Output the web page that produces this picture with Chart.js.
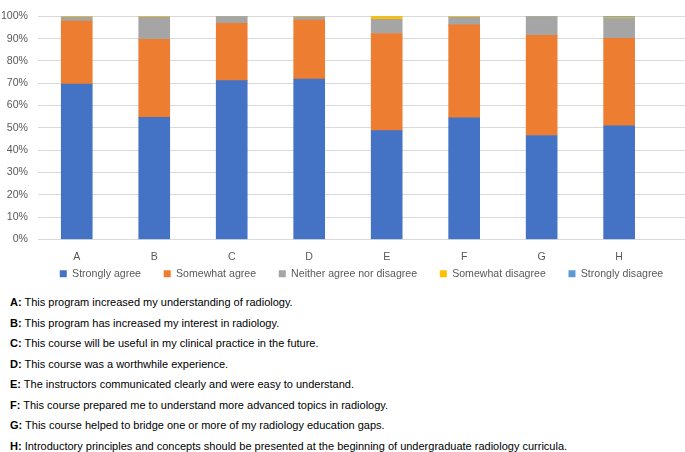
<!DOCTYPE html>
<html>
<head>
<meta charset="utf-8">
<title>Course survey responses</title>
<script src="https://cdn.jsdelivr.net/npm/chart.js@4.4.1/dist/chart.umd.min.js"></script>
<style>
    body { margin: 0; background: #fff; width: 685px; height: 452px; overflow: hidden; font-family: "Liberation Sans", Arial, sans-serif; }
    #chartBox { position: absolute; left: 0; top: 0; width: 685px; height: 289px; }
    #notes { position: absolute; left: 10px; top: 292px; font-size: 11px; color: #000; }
    #notes div { height: 20.5px; line-height: 20.5px; white-space: nowrap; }
</style>
</head>
<body>
<div id="chartBox"><canvas id="surveyChart" width="685" height="289"></canvas></div>
<div id="notes"></div>

<script>
/* ============================================
   Survey responses per statement (100% stacked)
   ============================================ */

const categories = ['A', 'B', 'C', 'D', 'E', 'F', 'G', 'H'];
const seriesNames = ['Strongly agree', 'Somewhat agree', 'Neither agree nor disagree', 'Somewhat disagree', 'Strongly disagree'];

// percent of respondents
const stronglyAgree    = [69.6, 54.7, 71.2, 71.9, 48.8, 54.5, 46.6, 50.9];
const somewhatAgree    = [28.3, 35.0, 25.7, 26.4, 43.5, 41.7, 44.9, 39.3];
const neitherAgree     = [1.8, 10.0, 3.1, 1.5, 6.4, 3.4, 8.5, 8.8];
const somewhatDisagree = [0.3, 0.3, 0, 0.2, 1.3, 0.4, 0, 0.4];
const stronglyDisagree = [0, 0, 0, 0, 0, 0, 0, 0.6];

const yTicks = [0, 10, 20, 30, 40, 50, 60, 70, 80, 90, 100];

const statements = [
    'This program increased my understanding of radiology.',
    'This program has increased my interest in radiology.',
    'This course will be useful in my clinical practice in the future.',
    'This course was a worthwhile experience.',
    'The instructors communicated clearly and were easy to understand.',
    'This course prepared me to understand more advanced topics in radiology.',
    'This course helped to bridge one or more of my radiology education gaps.',
    'Introductory principles and concepts should be presented at the beginning of undergraduate radiology curricula.'
];

const colors = ['#4472C4', '#ED7D31', '#A5A5A5', '#FFC000', '#5B9BD5'];
const allSeries = [stronglyAgree, somewhatAgree, neitherAgree, somewhatDisagree, stronglyDisagree];

Chart.defaults.font.family = "'Liberation Sans', Arial, sans-serif";
Chart.defaults.color = '#595959';

const datasets = allSeries.map((vals, i) => ({
    label: seriesNames[i],
    data: vals.map((v, j) => ({ x: j, y: v })),
    backgroundColor: colors[i],
    borderWidth: 0,
    barThickness: 31,
}));

// legend items sit further apart than they are tall, so pad the text on the right
const legendLabels = chart => {
    const items = Chart.defaults.plugins.legend.labels.generateLabels(chart);
    items.forEach((it, i) => { if (i < items.length - 1) it.text += '     '; });
    return items;
};

new Chart(document.getElementById('surveyChart'), {
    type: 'bar',
    data: { datasets },
    options: {
        responsive: false, animation: false, devicePixelRatio: 1,
        layout: { padding: { top: 5, left: 0, right: 0, bottom: 0 } },
        plugins: {
            tooltip: { enabled: false },
            legend: {
                position: 'bottom', fullSize: false,
                labels: { boxWidth: 7, boxHeight: 7, padding: 8, color: '#595959', font: { size: 10.6 }, generateLabels: legendLabels }
            }
        },
        scales: {
            x: {
                type: 'linear', stacked: true, offset: false, min: -0.5, max: 7.85,
                grid: { display: false, drawTicks: false }, border: { display: false },
                afterBuildTicks: s => { s.ticks = categories.map((c, i) => ({ value: i })); },
                afterFit: s => { s.height = 21; },
                ticks: { callback: v => categories[v], autoSkip: false, maxRotation: 0, padding: 11, color: '#595959', font: { size: 10.6 } }
            },
            y: {
                stacked: true, min: 0, max: 100,
                grid: { color: '#d9d9d9', drawTicks: false }, border: { display: false },
                afterBuildTicks: s => { s.ticks = yTicks.map(v => ({ value: v })); },
                afterFit: s => { s.width = 38; },
                ticks: { callback: v => v + '%', padding: 10, color: '#595959', font: { size: 10.6 } }
            }
        }
    }
});

document.getElementById('notes').innerHTML = statements
    .map((t, i) => `<div><b>${categories[i]}:</b> ${t}</div>`).join('');
</script>
</body>
</html>
